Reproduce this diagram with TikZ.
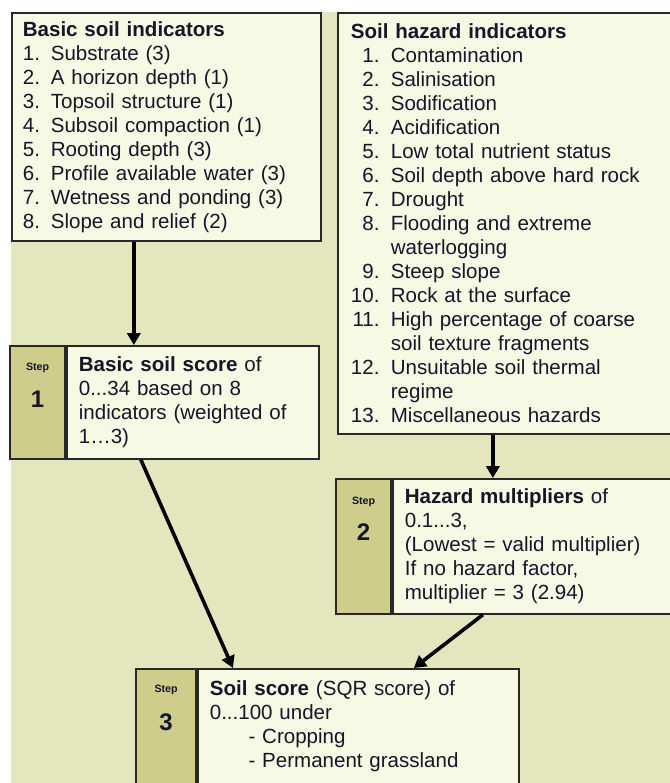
\documentclass[tikz,border=0pt]{standalone}
\usepackage{fontspec}
\setmainfont{Liberation Sans}
\usetikzlibrary{positioning,arrows.meta}

\definecolor{panel}{RGB}{228,231,190}
\definecolor{boxfill}{RGB}{246,249,227}
\definecolor{stepfill}{RGB}{207,205,140}
\definecolor{boxline}{RGB}{40,40,40}
\definecolor{ink}{RGB}{22,22,40}

\newcommand{\bsno}[1]{\makebox[21pt][l]{#1}}
\newcommand{\hzno}[1]{\makebox[21.5pt][r]{#1}\hspace*{8.5pt}}

\tikzset{
  box/.style={draw=boxline, line width=1.3pt, fill=boxfill, anchor=north west,
    align=left, text=ink, inner ysep=0pt, font=\fontsize{15.4}{18}\selectfont},
  stepcol/.style={draw=boxline, line width=1.3pt, fill=stepfill, inner sep=0pt},
  steptag/.style={font=\fontsize{8}{9}\selectfont\bfseries, text=ink, inner sep=0pt},
  stepno/.style={font=\fontsize{18}{20}\selectfont\bfseries, text=ink, inner sep=0pt},
  arr/.style={line width=2.7pt, -{Triangle[length=9pt,width=10pt]}}
}

\begin{document}
\begin{tikzpicture}[x=0.75pt, y=-0.75pt]

\useasboundingbox (0,0) rectangle (670,783);
\clip (0,0) rectangle (670,783);
\fill [panel] (11,12) rectangle (680,790);

% indicator lists
\node [box, text width=215.25pt, inner xsep=8.25pt, minimum height=171pt] (basic) at (11,12)
  {\textbf{Basic soil indicators}\\
   \bsno{1.}Substrate (3)\\
   \bsno{2.}A horizon depth (1)\\
   \bsno{3.}Topsoil structure (1)\\
   \bsno{4.}Subsoil compaction (1)\\
   \bsno{5.}Rooting depth (3)\\
   \bsno{6.}Profile available water (3)\\
   \bsno{7.}Wetness and ponding (3)\\
   \bsno{8.}Slope and relief (2)};

\node [box, text width=247.5pt, inner xsep=9.75pt, minimum height=315.75pt] (hazard) at (337,12)
  {\textbf{Soil hazard indicators}\\
   \hzno{1.}Contamination\\
   \hzno{2.}Salinisation\\
   \hzno{3.}Sodification\\
   \hzno{4.}Acidification\\
   \hzno{5.}Low total nutrient status\\
   \hzno{6.}Soil depth above hard rock\\
   \hzno{7.}Drought\\
   \hzno{8.}Flooding and extreme\\
   \hspace*{30pt}waterlogging\\
   \hzno{9.}Steep slope\\
   \hzno{10.}Rock at the surface\\
   \hzno{11.}High percentage of coarse\\
   \hspace*{30pt}soil texture fragments\\
   \hzno{12.}Unsuitable soil thermal\\
   \hspace*{30pt}regime\\
   \hzno{13.}Miscellaneous hazards};

% step 1
\node [box, text width=171pt, inner xsep=9pt, minimum height=84.75pt] (score1) at (66,345)
  {\textbf{Basic soil score} of\\0...34 based on 8\\indicators (weighted of\\1…3)};
\node [stepcol, minimum width=41.25pt, minimum height=84.75pt, left=0pt of score1] (col1) {};
\node [steptag] (tag1) at ([yshift=-17.5pt]col1.north) {Step};
\node [stepno] (no1) at ([yshift=-41pt]col1.north) {1};

% step 2
\node [box, text width=213pt, inner xsep=9pt, minimum height=101.25pt] (hazmult) at (392,478)
  {\textbf{Hazard multipliers} of\\0.1...3,\\(Lowest = valid multiplier)\\If no hazard factor,\\multiplier = 3 (2.94)};
\node [stepcol, minimum width=41.25pt, minimum height=101.25pt, left=0pt of hazmult] (col2) {};
\node [steptag] (tag2) at ([yshift=-18pt]col2.north) {Step};
\node [stepno] (no2) at ([yshift=-40.5pt]col2.north) {2};

% step 3
\node [box, text width=222.75pt, inner xsep=9pt, minimum height=101.25pt] (sqr) at (197,668)
  {\textbf{Soil score} (SQR score) of\\0...100 under\\\hspace*{29pt}- Cropping\\\hspace*{29pt}- Permanent grassland\\\mbox{}};
\node [stepcol, minimum width=45pt, minimum height=101.25pt, left=0pt of sqr] (col3) {};
\node [steptag] (tag3) at ([yshift=-16.5pt]col3.north) {Step};
\node [stepno] (no3) at ([yshift=-40.5pt]col3.north) {3};

\draw [arr] ([xshift=-24.4pt]basic.south) -- ([xshift=-24.4pt]basic.south |- score1.north);
\draw [arr] ([xshift=-17.25pt]hazard.south) -- ([xshift=-17.25pt]hazard.south |- hazmult.north);
\draw [arr] ([xshift=-39pt]score1.south) -- ([xshift=-94.1pt]sqr.north);
\draw [arr] ([xshift=-48pt]hazmult.south) -- ([xshift=41.6pt]sqr.north);

\end{tikzpicture}
\end{document}
